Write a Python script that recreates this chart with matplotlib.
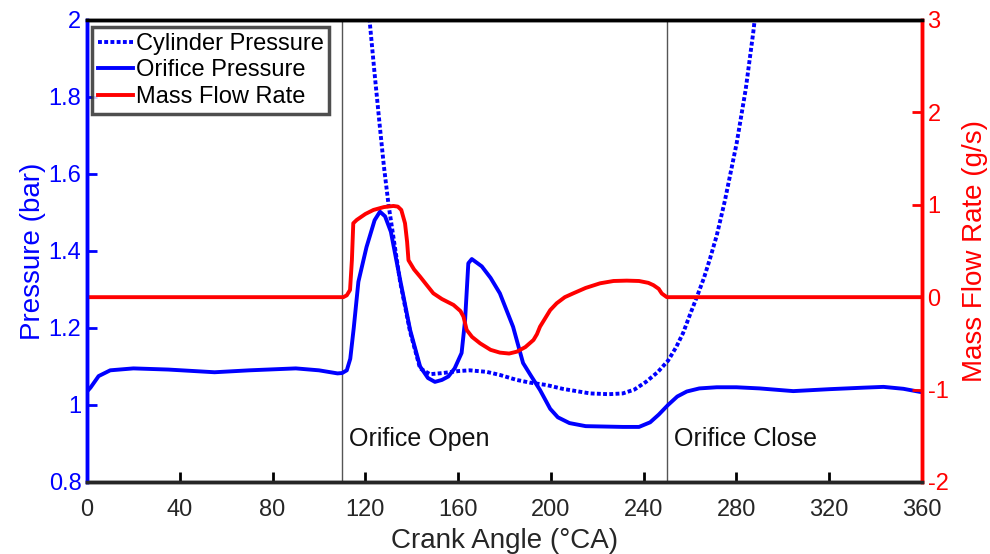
import matplotlib.pyplot as plt

plt.rcParams['font.family'] = ['Liberation Sans', 'DejaVu Sans']
plt.rcParams['axes.unicode_minus'] = False

# orifice pressure (bar) vs crank angle
ang_o = [0, 1.5, 5, 10, 20, 35, 55, 70, 90, 100, 108, 110, 112, 113.5, 115, 117, 120.5, 124, 126.3,
         128.5, 131, 135, 139.3, 143.6, 147, 150, 153, 155.8, 158.5, 161.5, 163, 164.4, 165.9, 170.2,
         174, 178, 183.7, 188, 191.5, 195.3, 199.7, 203, 208, 215, 231, 238, 242.8, 246.5, 250.5,
         254.5, 258.6, 264, 271.5, 280, 290, 304.5, 320, 335, 343.4, 352, 360]
p_orifice = [1.035, 1.045, 1.075, 1.09, 1.095, 1.092, 1.085, 1.09, 1.095, 1.09, 1.082, 1.083, 1.09,
             1.12, 1.2, 1.32, 1.41, 1.48, 1.502, 1.49, 1.45, 1.325, 1.195, 1.10, 1.07, 1.06, 1.065,
             1.074, 1.095, 1.135, 1.22, 1.368, 1.379, 1.36, 1.33, 1.29, 1.203, 1.109, 1.075, 1.039,
             0.99, 0.968, 0.953, 0.945, 0.943, 0.943, 0.955, 0.975, 1.0, 1.022, 1.035, 1.043, 1.046,
             1.046, 1.043, 1.036, 1.041, 1.045, 1.047, 1.042, 1.033]

# cylinder pressure (bar)
ang_c = [121.5, 124, 126.3, 128, 130, 131.5, 135, 139.3, 143.6, 147.9, 153.5, 160, 165, 172.3, 178,
         185.3, 191, 198, 205, 216.9, 225, 231, 236, 241, 246, 250.5, 254, 257, 260, 262.9, 266,
         268.6, 271.5, 275, 280.1, 284, 287.3, 289]
p_cyl = [2.02, 1.86, 1.72, 1.62, 1.52, 1.46, 1.32, 1.19, 1.095, 1.08, 1.083, 1.088, 1.09, 1.086,
         1.078, 1.065, 1.058, 1.052, 1.042, 1.03, 1.028, 1.03, 1.04, 1.06, 1.085, 1.115, 1.15,
         1.187, 1.235, 1.28, 1.33, 1.38, 1.44, 1.53, 1.68, 1.82, 1.97, 2.06]

# mass flow rate (g/s)
ang_m = [0, 108, 110.5, 112, 113.4, 114.2, 114.8, 116.3, 120, 123.5, 128, 132.1, 134, 135.5, 137.1,
         138, 138.6, 141, 143.6, 146.5, 149.3, 153, 158, 161, 162.3, 163.7, 166, 169.5, 174, 178,
         182, 185.3, 189, 192.5, 194, 195.3, 197.5, 199.7, 202.5, 206, 209.7, 215, 221.2, 227,
         232.7, 238, 242, 244.2, 246.5, 247.8, 250, 360]
mdot = [0, 0, 0.0, 0.02, 0.078, 0.4, 0.8, 0.836, 0.9, 0.944, 0.975, 0.987, 0.98, 0.944, 0.80, 0.6,
        0.40, 0.3, 0.222, 0.13, 0.042, -0.02, -0.084, -0.15, -0.21, -0.355, -0.43, -0.50, -0.57,
        -0.60, -0.61, -0.59, -0.54, -0.463, -0.4, -0.32, -0.23, -0.14, -0.066, 0.0, 0.042, 0.10,
        0.15, 0.175, 0.179, 0.175, 0.155, 0.13, 0.09, 0.04, 0.0, 0.0]

orifice_open = 110
orifice_close = 250

fig = plt.figure(figsize=(9.9, 5.54), dpi=100)
ax = fig.add_axes([0.0879, 0.13, 0.8434, 0.834])
ax2 = ax.twinx()

ax.axvline(orifice_open, color='#555555', lw=1)
ax.axvline(orifice_close, color='#555555', lw=1)
l1, = ax.plot(ang_c, p_cyl, color='blue', lw=2.8, linestyle=(0, (1, 0.6)), label='Cylinder Pressure')
l2, = ax.plot(ang_o, p_orifice, color='blue', lw=2.8, label='Orifice Pressure')
l3, = ax2.plot(ang_m, mdot, color='red', lw=2.8, label='Mass Flow Rate')

ax.text(113, 0.912, 'Orifice Open', fontsize=18, color='#111111', va='center')
ax.text(253, 0.912, 'Orifice Close', fontsize=18, color='#111111', va='center')

ax.set_xlim(0, 360)
ax.set_ylim(0.8, 2)
ax2.set_ylim(-2, 3)
ax.set_xticks(range(0, 361, 40))
ax.set_yticks([0.8, 1, 1.2, 1.4, 1.6, 1.8, 2])
ax.set_yticklabels(['0.8', '1', '1.2', '1.4', '1.6', '1.8', '2'])
ax2.set_yticks([-2, -1, 0, 1, 2, 3])

ax.set_xlabel('Crank Angle (°CA)', fontsize=20, color='#262626', labelpad=5)
ax.set_ylabel('Pressure (bar)', fontsize=20, color='blue', labelpad=2)
ax2.set_ylabel('Mass Flow Rate (g/s)', fontsize=20, color='red', labelpad=10)

ax.tick_params(axis='x', direction='in', length=7, width=2, labelsize=17, labelcolor='#262626', pad=12)
ax.tick_params(axis='y', direction='in', length=7, width=2, labelsize=17, colors='blue', pad=4)
ax2.tick_params(axis='y', direction='in', length=7, width=2, labelsize=17, colors='red', pad=4)

for a in (ax, ax2):
    for s in a.spines.values():
        s.set_linewidth(2.5)
    a.spines['top'].set_color('black')
    a.spines['bottom'].set_color('#262626')
ax.spines['left'].set_color('blue')
ax2.spines['left'].set_color('blue')
ax2.spines['right'].set_color('red')
ax.spines['right'].set_color('red')

leg = ax2.legend(handles=[l1, l2, l3], loc='upper left', bbox_to_anchor=(0.006, 0.985),
                 fontsize=17, frameon=True, fancybox=False, handlelength=1.5,
                 handletextpad=0.1, borderpad=0.25, labelspacing=0.2, borderaxespad=0)
leg.get_frame().set_edgecolor('#222222')
leg.get_frame().set_linewidth(2.5)

fig.savefig('out.png', dpi=100)
